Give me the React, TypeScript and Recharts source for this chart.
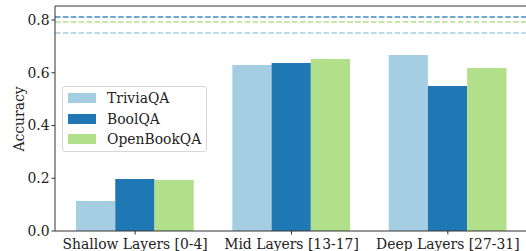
import React from 'react';
import { BarChart, Bar, XAxis, YAxis, ReferenceLine, Legend } from 'recharts';

const categories = ['Shallow Layers [0-4]', 'Mid Layers [13-17]', 'Deep Layers [27-31]'];
const triviaQA = [0.114, 0.629, 0.667];
const boolQA = [0.197, 0.637, 0.55];
const openBookQA = [0.193, 0.652, 0.618];

// full-depth baselines drawn as dashed lines
const triviaBase = 0.751;
const boolBase = 0.811;
const openBookBase = 0.792;

const yTicks = [0, 0.2, 0.4, 0.6, 0.8];
const yMax = 0.853;

const SERIES = [
  { key: 'trivia', name: 'TriviaQA', color: '#a6cee3' },
  { key: 'bool', name: 'BoolQA', color: '#1f78b4' },
  { key: 'obqa', name: 'OpenBookQA', color: '#b2df8a' },
];

const FONT = 'DejaVu Serif';
const FS = 13.9;
const AXIS = '#333333';

const data = categories.map((c, i) => ({
  name: c,
  trivia: triviaQA[i],
  bool: boolQA[i],
  obqa: openBookQA[i],
}));

const XTick = (props: any) => {
  const { x, y, payload } = props;
  return (
    <text x={x} y={y + 12} textAnchor="middle" fontFamily={FONT} fontSize={FS} fill="#222">
      {payload.value}
    </text>
  );
};

const YTick = (props: any) => {
  const { x, y, payload } = props;
  return (
    <text x={x} y={y} dy={5} textAnchor="end" fontFamily={FONT} fontSize={FS} fill="#222">
      {Number(payload.value).toFixed(1)}
    </text>
  );
};

const LegendBox = () => (
  <div
    style={{
      width: 143,
      height: 64,
      border: '1px solid #d6d6d6',
      borderRadius: 3,
      background: 'rgba(255,255,255,0.8)',
      fontFamily: FONT,
      fontSize: FS,
      color: '#222',
      position: 'relative',
    }}
  >
    {SERIES.map((s, i) => (
      <div key={s.key} style={{ position: 'absolute', left: 5, top: 5 + i * 20.5, height: 12, display: 'flex', alignItems: 'center' }}>
        <div style={{ width: 28, height: 10, background: s.color }} />
        <span style={{ marginLeft: 11, lineHeight: '12px' }}>{s.name}</span>
      </div>
    ))}
  </div>
);

const App: React.FC = () => {
  return (
    <div style={{ position: 'absolute', left: 0, top: 0, width: 526, height: 251, overflow: 'hidden', fontFamily: FONT }}>
      <BarChart
        width={530}
        height={251}
        data={data}
        margin={{ top: 6, right: 2, left: 0, bottom: 0 }}
        barGap={0}
      >
        <XAxis
          dataKey="name"
          height={20}
          padding={{ left: 2, right: 2 }}
          stroke={AXIS}
          tickSize={3.5}
          tickMargin={2}
          tick={<XTick />}
        />
        <YAxis
          width={55}
          domain={[0, yMax]}
          ticks={yTicks}
          stroke={AXIS}
          tickSize={3.5}
          tickMargin={2}
          tick={<YTick />}
        />
        {SERIES.map((s) => (
          <Bar key={s.key} dataKey={s.key} name={s.name} fill={s.color} barSize={39.25} isAnimationActive={false} />
        ))}
        <ReferenceLine y={boolBase} stroke="#1f78b4" strokeWidth={1.5} strokeDasharray="5.5 2.4" strokeOpacity={0.85} />
        <ReferenceLine y={openBookBase} stroke="#b2df8a" strokeWidth={1.5} strokeDasharray="5.5 2.4" />
        <ReferenceLine y={triviaBase} stroke="#a6cee3" strokeWidth={1.5} strokeDasharray="5.5 2.4" />
        <ReferenceLine y={yMax} stroke={AXIS} strokeWidth={1} />
        <Legend
          layout="vertical"
          align="center"
          verticalAlign="middle"
          content={() => <LegendBox />}
          wrapperStyle={{ left: 62, top: 86, width: 145, height: 66 }}
        />
      </BarChart>
      <div
        style={{
          position: 'absolute',
          left: 19,
          top: 118.5,
          transform: 'translate(-50%, -50%) rotate(-90deg)',
          fontFamily: FONT,
          fontSize: FS,
          color: '#222',
          whiteSpace: 'nowrap',
        }}
      >
        Accuracy
      </div>
    </div>
  );
};

export default App;
